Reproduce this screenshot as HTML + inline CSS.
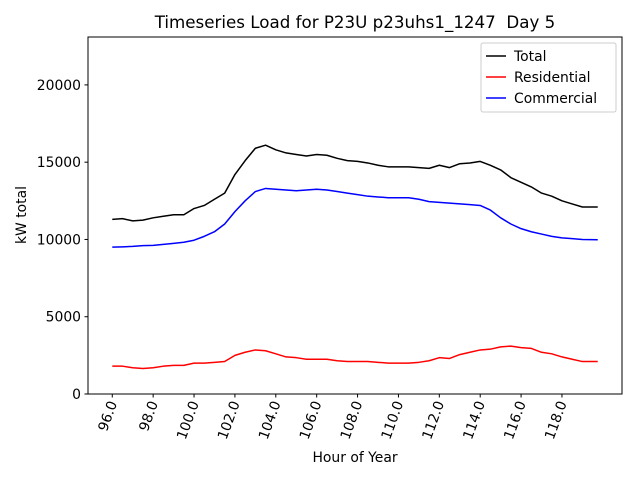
<!DOCTYPE html>
<html><head><meta charset="utf-8"><style>
body{margin:0;background:#fff}
svg{display:block;font-family:"DejaVu Sans","Liberation Sans",sans-serif}
</style></head><body>
<svg id="chart" width="640" height="480">
<rect x="0" y="0" width="640" height="480" fill="#fff"/>
<text x="355" y="28" font-size="16.7" text-anchor="middle" xml:space="preserve" style="white-space:pre">Timeseries Load for P23U p23uhs1_1247  Day 5</text>
<g id="grid"></g>
<g id="series"></g>
<rect x="88" y="37" width="534" height="357" fill="none" stroke="#000" stroke-width="1"/>
<text x="355" y="462" font-size="13.9" text-anchor="middle">Hour of Year</text>
<text transform="translate(26,215) rotate(-90)" font-size="13.9" text-anchor="middle">kW total</text>
<g>
<rect x="481" y="43" width="135" height="69" fill="#fff" stroke="#ccc" rx="2"/>
<g><line x1="486" y1="56" x2="506" y2="56" stroke="#000" stroke-width="1.5"/><text x="514" y="61" font-size="13.9">Total</text></g>
<g><line x1="486" y1="77" x2="506" y2="77" stroke="#f00" stroke-width="1.5"/><text x="514" y="82" font-size="13.9">Residential</text></g>
<g><line x1="486" y1="98" x2="506" y2="98" stroke="#00f" stroke-width="1.5"/><text x="514" y="103" font-size="13.9">Commercial</text></g>
</g>
</svg>
<script>
const hours=[96,96.5,97,97.5,98,98.5,99,99.5,100,100.5,101,101.5,102,102.5,103,103.5,104,104.5,105,105.5,106,106.5,107,107.5,108,108.5,109,109.5,110,110.5,111,111.5,112,112.5,113,113.5,114,114.5,115,115.5,116,116.5,117,117.5,118,118.5,119,119.75];
const total=[11300,11350,11200,11250,11400,11500,11600,11600,12000,12200,12600,13000,14200,15100,15900,16100,15800,15600,15500,15400,15500,15450,15250,15100,15050,14950,14800,14700,14700,14700,14650,14600,14800,14650,14900,14950,15050,14800,14500,14000,13700,13400,13000,12800,12500,12300,12100,12100];
const residential=[1800,1800,1700,1650,1700,1800,1850,1850,2000,2000,2050,2100,2500,2700,2850,2800,2600,2400,2350,2250,2250,2250,2150,2100,2100,2100,2050,2000,2000,2000,2050,2150,2350,2300,2550,2700,2850,2900,3050,3100,3000,2950,2700,2600,2400,2250,2100,2100];
const commercial=[9500,9520,9550,9600,9620,9680,9750,9820,9950,10200,10500,11000,11800,12500,13100,13300,13250,13200,13150,13200,13250,13200,13100,13000,12900,12800,12750,12700,12700,12700,12600,12450,12400,12350,12300,12250,12200,11900,11400,11000,10700,10500,10350,10200,10100,10050,10000,9980];
const xTicks=[96,98,100,102,104,106,108,110,112,114,116,118];
const yTicks=[0,5000,10000,15000,20000];
const X0=88,X1=622,Y0=394,Y1=37,xmin=94.8125,xmax=120.9375,ymin=0,ymax=23100;
const sx=v=>X0+(v-xmin)/(xmax-xmin)*(X1-X0);
const sy=v=>Y0-(v-ymin)/(ymax-ymin)*(Y0-Y1);
const NS="http://www.w3.org/2000/svg";
const g=document.getElementById('grid'),s=document.getElementById('series');
function mk(t,a,p){const e=document.createElementNS(NS,t);for(const k in a)e.setAttribute(k,a[k]);p.appendChild(e);return e;}
xTicks.forEach(v=>{const x=sx(v);
 const t=mk('line',{x1:x,y1:Y0,x2:x,y2:Y0+3.5,stroke:'#000'},g);
 
 
 const l=mk('text',{x:0,y:0,'font-size':13.9,'text-anchor':'end',transform:`translate(${x+5},${Y0+9}) rotate(-70)`},g);
 l.textContent=v.toFixed(1);
 
 });
yTicks.forEach(v=>{const y=sy(v);
 const t=mk('line',{x1:X0-3.5,y1:y,x2:X0,y2:y,stroke:'#000'},g);
 
 
 const l=mk('text',{x:X0-7,y:y+5,'font-size':13.9,'text-anchor':'end'},g);
 l.textContent=v;
 
 });
[[total,'#000','total-line'],[residential,'#f00','residential-line'],[commercial,'#00f','commercial-line']].forEach(([d,c,n])=>{
 const p=mk('polyline',{points:d.map((v,i)=>sx(hours[i])+','+sy(v)).join(' '),fill:'none',stroke:c,'stroke-width':1.5,'stroke-linejoin':'round'},s);
 
 });
</script>
</body></html>
